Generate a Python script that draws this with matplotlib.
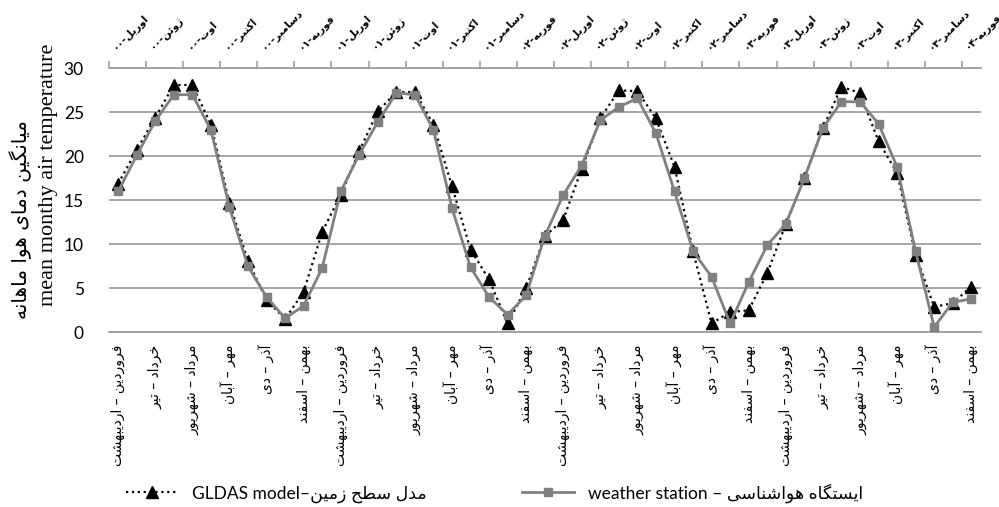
import re
import matplotlib
matplotlib.use('Agg')
import matplotlib.pyplot as plt
from matplotlib.lines import Line2D

# Arabic letter -> (isolated, final, initial, medial) presentation forms
FORMS = {
    'ا': ('\uFE8D', '\uFE8E', None, None),
    'آ': ('\uFE81', '\uFE82', None, None),
    'ب': ('\uFE8F', '\uFE90', '\uFE91', '\uFE92'),
    'ت': ('\uFE95', '\uFE96', '\uFE97', '\uFE98'),
    'ح': ('\uFEA1', '\uFEA2', '\uFEA3', '\uFEA4'),
    'خ': ('\uFEA5', '\uFEA6', '\uFEA7', '\uFEA8'),
    'د': ('\uFEA9', '\uFEAA', None, None),
    'ذ': ('\uFEAB', '\uFEAC', None, None),
    'ر': ('\uFEAD', '\uFEAE', None, None),
    'ز': ('\uFEAF', '\uFEB0', None, None),
    'ژ': ('\uFB8A', '\uFB8B', None, None),
    'س': ('\uFEB1', '\uFEB2', '\uFEB3', '\uFEB4'),
    'ش': ('\uFEB5', '\uFEB6', '\uFEB7', '\uFEB8'),
    'ط': ('\uFEC1', '\uFEC2', '\uFEC3', '\uFEC4'),
    'ف': ('\uFED1', '\uFED2', '\uFED3', '\uFED4'),
    'ک': ('\uFB8E', '\uFB8F', '\uFB90', '\uFB91'),
    'گ': ('\uFB92', '\uFB93', '\uFB94', '\uFB95'),
    'ل': ('\uFEDD', '\uFEDE', '\uFEDF', '\uFEE0'),
    'م': ('\uFEE1', '\uFEE2', '\uFEE3', '\uFEE4'),
    'ن': ('\uFEE5', '\uFEE6', '\uFEE7', '\uFEE8'),
    'و': ('\uFEED', '\uFEEE', None, None),
    'ه': ('\uFEE9', '\uFEEA', '\uFEEB', '\uFEEC'),
    'ی': ('\uFBFC', '\uFBFD', '\uFBFE', '\uFBFF'),
    'ئ': ('\uFE89', '\uFE8A', '\uFE8B', '\uFE8C'),
}


def fa(text):
    # join letters, then put them in visual (left-to-right) order
    out = []
    for i, c in enumerate(text):
        if c not in FORMS:
            out.append(c)
            continue
        prev = text[i - 1] if i > 0 else ''
        nxt = text[i + 1] if i + 1 < len(text) else ''
        p = prev in FORMS and FORMS[prev][2] is not None
        n = nxt in FORMS and FORMS[c][2] is not None
        iso, fin, ini, med = FORMS[c]
        if p and n:
            out.append(med)
        elif p:
            out.append(fin)
        elif n:
            out.append(ini)
        else:
            out.append(iso)
    tokens = re.findall(r'[0-9۰-۹A-Za-z]+|.', ''.join(out))
    return ''.join(reversed(tokens))


gldas = [16.9, 20.7, 24.4, 28.1, 28.1, 23.6, 14.7, 8.1, 3.7, 1.5, 4.6, 11.4,
         15.6, 20.6, 25.1, 27.3, 27.3, 23.6, 16.6, 9.4, 6.0, 1.0, 5.0, 10.9,
         12.8, 18.6, 24.3, 27.5, 27.4, 24.3, 18.8, 9.2, 1.0, 2.3, 2.5, 6.7,
         12.3, 17.5, 23.2, 27.9, 27.2, 21.7, 18.1, 8.8, 2.9, 3.3, 5.2]
station = [16.0, 20.1, 24.0, 27.0, 27.0, 23.0, 14.2, 7.5, 4.0, 1.6, 3.0, 7.3,
           16.0, 20.2, 23.9, 27.2, 27.0, 23.0, 14.1, 7.4, 4.0, 2.0, 4.2, 10.9,
           15.6, 19.0, 24.1, 25.6, 26.6, 22.6, 16.0, 9.2, 6.3, 1.0, 5.7, 9.9,
           12.3, 17.5, 23.2, 26.2, 26.2, 23.7, 18.8, 9.2, 0.6, 3.4, 3.8]

month_pairs = ['فروردین – اردیبهشت', 'خرداد – تیر', 'مرداد – شهریور',
               'مهر – آبان', 'آذر – دی', 'بهمن – اسفند']
bottom_labels = month_pairs * 4

greg_months = ['اوریل', 'ژوئن', 'اوت', 'اکتبر', 'دسامبر', 'فوریه']
years = ['۰۰', '۰۱', '۰۲', '۰۳', '۰۴']
top_labels = []
for k in range(24):
    yr = years[(k + 1) // 6] if k % 6 == 5 else years[k // 6]
    top_labels.append(greg_months[k % 6] + '-' + yr)

x = list(range(len(gldas)))
label_pos = x[::2]

fig = plt.figure(figsize=(9.99, 5.07), dpi=100)
ax = fig.add_axes([0.109, 0.3446, 0.8725, 0.5207])

ax.plot(x, gldas, color='black', linestyle=':', lw=1.6, marker='^',
        markersize=8, zorder=3, label='gldas')
ax.plot(x, station, color='#808080', linestyle='-', lw=2, marker='s',
        markersize=6, zorder=4, label='station')

ax.set_xlim(-0.5, 46.5)
ax.set_ylim(0, 30)
ax.set_yticks(range(0, 31, 5))
ax.tick_params(axis='y', length=0, pad=18, labelsize=12.5)
for t in ax.get_yticklabels():
    t.set_family(['Lato', 'DejaVu Sans'])
ax.yaxis.grid(True, color='#a0a0a0', lw=1.3)
ax.set_axisbelow(True)
for s in ['left', 'right', 'top']:
    ax.spines[s].set_visible(False)
ax.spines['bottom'].set_color('#a0a0a0')
ax.spines['bottom'].set_linewidth(1.3)

ax.set_xticks(label_pos)
ax.set_xticklabels([fa(l) for l in bottom_labels], rotation=90,
                   fontsize=10, family='DejaVu Sans')
ax.tick_params(axis='x', length=0, pad=9)

# top date axis
ax2 = ax.twiny()
ax2.set_xlim(ax.get_xlim())
ax2.set_xticks([p - 0.5 for p in label_pos])
ax2.set_xticklabels([])
ax2.set_xticks(label_pos, minor=True)
ax2.set_xticklabels([fa(l) for l in top_labels], minor=True, rotation=45,
                    fontsize=7.5, fontweight='bold', family='DejaVu Sans',
                    ha='left', va='bottom', rotation_mode='anchor')
ax2.tick_params(axis='x', which='major', length=5, color='#a0a0a0', width=1.2)
ax2.tick_params(axis='x', which='minor', length=0, pad=12)
for s in ['left', 'right', 'bottom']:
    ax2.spines[s].set_visible(False)
ax2.spines['top'].set_color('#a0a0a0')
ax2.spines['top'].set_linewidth(1.3)

# y labels
fig.text(0.049, 0.655, 'mean monthy air temperature', rotation=90,
         ha='center', va='center', fontsize=16, family='Liberation Serif')
fig.text(0.021, 0.566, fa('میانگین دمای هوا ماهانه'), rotation=90,
         ha='center', va='center', fontsize=14.5, family='DejaVu Sans')

handles = [
    Line2D([], [], color='black', linestyle=':', lw=1.6, marker='^', markersize=8),
    Line2D([], [], color='#808080', linestyle='-', lw=2, marker='s', markersize=6),
]
labels = ['GLDAS model–' + fa('مدل سطح زمین'),
          'weather station – ' + fa('ایستگاه هواشناسی')]
leg = fig.legend(handles, labels, loc='center', bbox_to_anchor=(0.495, 0.028),
                 ncol=2, frameon=False, handlelength=3, columnspacing=5.5,
                 prop={'family': ['Lato', 'DejaVu Sans'], 'size': 12.5})

fig.savefig('out.png', dpi=100)
